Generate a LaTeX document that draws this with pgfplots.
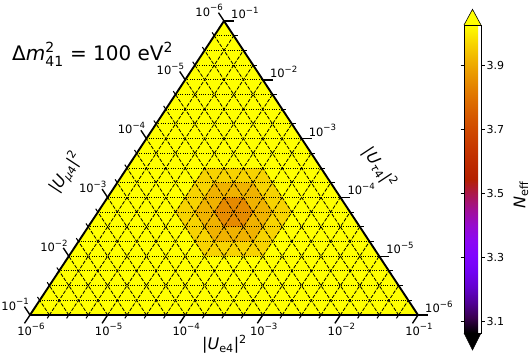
\documentclass[border=0pt]{standalone}
\usepackage{amsmath}
\usepackage{fontspec}
\setmainfont{DejaVu Sans}
\usepackage{pgfplots}
\pgfplotsset{compat=1.18}
\usepgfplotslibrary{patchplots}

% matplotlib "gnuplot" map, sampled every 0.05
\pgfplotsset{
  colormap={gnuplot}{
    rgb255=(0,0,0) rgb255=(57,0,79) rgb255=(81,0,150) rgb255=(99,1,206)
    rgb255=(114,2,243) rgb255=(128,4,255) rgb255=(140,7,243) rgb255=(151,11,206)
    rgb255=(161,16,150) rgb255=(171,23,79) rgb255=(180,32,0) rgb255=(189,42,0)
    rgb255=(198,55,0) rgb255=(206,70,0) rgb255=(213,87,0) rgb255=(221,108,0)
    rgb255=(228,131,0) rgb255=(235,157,0) rgb255=(242,186,0) rgb255=(249,219,0)
    rgb255=(255,255,0)},
}
\definecolor{cbtop}{RGB}{255,255,0}
% power-of-ten tick label
\newcommand\pw[1]{10\raisebox{0.45em}{\fontsize{8.6}{9}\selectfont −#1}}

\begin{document}
\begin{tikzpicture}[
  gdot/.style={black, line width=0.85pt, dash pattern=on 0.9pt off 1.4pt},
  gdash/.style={black, line width=0.8pt, dash pattern=on 3.6pt off 1.5pt},
  lbl/.style={font=\fontsize{11.5}{13}\selectfont, inner sep=0pt},
]
\begin{axis}[
  name=ax, width=531pt, height=354pt, scale only axis,
  xmin=0, xmax=531, ymin=0, ymax=354, y dir=reverse,
  hide axis, clip=false,
  colormap name=gnuplot, point meta min=3.0625, point meta max=4.025,
  colorbar shift/.style={},
  colorbar,
  colorbar style={
    y dir=normal, hide x axis=false, hide y axis=false,
    at={(parent axis.north west)}, anchor=north west,
    xshift=464pt, yshift=-25pt,
    scale only axis, width=17pt, height=308pt,
    ytick={3.1,3.3,3.5,3.7,3.9},
    tick align=outside, major tick length=3.5pt,
    tick style={black, line width=0.6pt},
    axis line style={black, line width=0.6pt},
    yticklabel style={font=\fontsize{11}{12}\selectfont, inner sep=0pt, xshift=2pt,
      /pgf/number format/fixed, /pgf/number format/fixed zerofill,
      /pgf/number format/precision=1, /pgf/number format/assume math mode=true},
  },
]
% triangle background (N_eff above the colour range)
\addplot[draw=none, fill=cbtop] coordinates {(30,315) (418,315) (224,21) (30,315)};

% the N_eff bump, nested hexagons on the lattice
\addplot[patch, patch type=polygon, vertex count=6, shader=flat, point meta=explicit]
  table[meta=c] {
x y c
291.9 212.1 3.965
262.8 168.0 3.965
204.6 168.0 3.965
175.5 212.1 3.965
204.6 256.2 3.965
262.8 256.2 3.965
272.5 212.1 3.915
253.1 182.7 3.915
214.3 182.7 3.915
194.9 212.1 3.915
214.3 241.5 3.915
253.1 241.5 3.915
253.1 212.1 3.845
243.4 197.4 3.845
224.0 197.4 3.845
214.3 212.1 3.845
224.0 226.8 3.845
243.4 226.8 3.845
};

% grid
\pgfplotsinvokeforeach{1,...,19}{
  \pgfmathsetmacro\f{#1/20}
  \pgfmathsetmacro\ya{315-294*\f}
  \pgfmathsetmacro\xa{30+194*\f}
  \pgfmathsetmacro\xb{418-194*\f}
  \pgfmathsetmacro\xc{30+388*\f}
  \pgfmathsetmacro\xd{224+194*\f}
  \pgfmathsetmacro\yd{21+294*\f}
  \edef\tmp{\noexpand\draw[gdot] (axis cs:\xa,\ya) -- (axis cs:\xb,\ya);}\tmp
  \edef\tmp{\noexpand\draw[gdash] (axis cs:\xc,315) -- (axis cs:\xd,\yd);}\tmp
  \edef\tmp{\noexpand\draw[gdash] (axis cs:\xc,315) -- (axis cs:\xa,\ya);}\tmp
}

% outline
\addplot[black, line width=1.9pt, line join=round] coordinates {(30,315) (418,315) (224,21) (30,315)};

% ticks
\pgfplotsinvokeforeach{0,...,20}{
  \pgfmathsetmacro\f{#1/20}
  \pgfmathsetmacro\L{ifthenelse(mod(#1,4)==0,10,4)}
  \pgfmathsetmacro\lw{ifthenelse(mod(#1,4)==0,1.4,1.0)}
  \pgfmathsetmacro\bx{30+388*\f}
  \pgfmathsetmacro\ex{\bx-0.551*\L}
  \pgfmathsetmacro\ey{315+0.835*\L}
  \edef\tmp{\noexpand\draw[black, line width=\lw pt] (axis cs:\bx,315) -- (axis cs:\ex,\ey);}\tmp
  \pgfmathsetmacro\lx{30+194*\f}
  \pgfmathsetmacro\ly{315-294*\f}
  \pgfmathsetmacro\ex{\lx-0.551*\L}
  \pgfmathsetmacro\ey{\ly-0.835*\L}
  \edef\tmp{\noexpand\draw[black, line width=\lw pt] (axis cs:\lx,\ly) -- (axis cs:\ex,\ey);}\tmp
  \pgfmathsetmacro\rx{224+194*\f}
  \pgfmathsetmacro\ry{21+294*\f}
  \pgfmathsetmacro\ex{\rx+\L}
  \edef\tmp{\noexpand\draw[black, line width=\lw pt] (axis cs:\rx,\ry) -- (axis cs:\ex,\ry);}\tmp
}

% tick labels
\pgfplotsinvokeforeach{0,...,5}{
  \pgfmathsetmacro\bx{31+77.6*#1}
  \edef\tmp{\noexpand\node[lbl, anchor=base] at (axis cs:\bx,335)}\tmp {\pw{\the\numexpr6-#1\relax}};
  \pgfmathsetmacro\lx{29+38.8*#1}
  \pgfmathsetmacro\ly{310-58.8*#1}
  \edef\tmp{\noexpand\node[lbl, anchor=base east] at (axis cs:\lx,\ly)}\tmp {\pw{\the\numexpr1+#1\relax}};
  \pgfmathsetmacro\rx{231+38.8*#1}
  \pgfmathsetmacro\ry{18.5+58.8*#1}
  \edef\tmp{\noexpand\node[lbl, anchor=base west] at (axis cs:\rx,\ry)}\tmp {\pw{\the\numexpr1+#1\relax}};
}

% axis titles
\node[font=\fontsize{16}{19}\selectfont, inner sep=0pt] at (axis cs:224.5,344)
  {|\textit{U}$_{\text{e4}}$|$^{\text{2}}$};
\node[font=\fontsize{16}{19}\selectfont, inner sep=0pt, rotate=56.6] at (axis cs:66,172.5)
  {|\textit{U}$_{\text{\textit{μ}4}}$|$^{\text{2}}$};
\node[font=\fontsize{16}{19}\selectfont, inner sep=0pt, rotate=-56.6] at (axis cs:379.5,167.5)
  {|\textit{U}$_{\text{\textit{τ}4}}$|$^{\text{2}}$};
\node[font=\fontsize{20}{24}\selectfont, inner sep=0pt, anchor=base west] at (axis cs:12,60)
  {Δ\textit{m}$^{\text{2}}_{\text{41}}$ = 100 eV$^{\text{2}}$};

% colourbar extensions and label
\addplot[fill=cbtop, draw=black, line width=0.6pt] coordinates {(464,25) (472.5,9.3) (481,25)};
\addplot[fill=black, draw=black, line width=0.6pt] coordinates {(464,333) (472.5,350) (481,333)};
\node[font=\fontsize{16}{19}\selectfont, inner sep=0pt, rotate=90] at (axis cs:521,195)
  {\textit{N}$_{\text{eff}}$};
\end{axis}
\pgfresetboundingbox
\path (ax.south west) rectangle (ax.north east);
\end{tikzpicture}
\end{document}
